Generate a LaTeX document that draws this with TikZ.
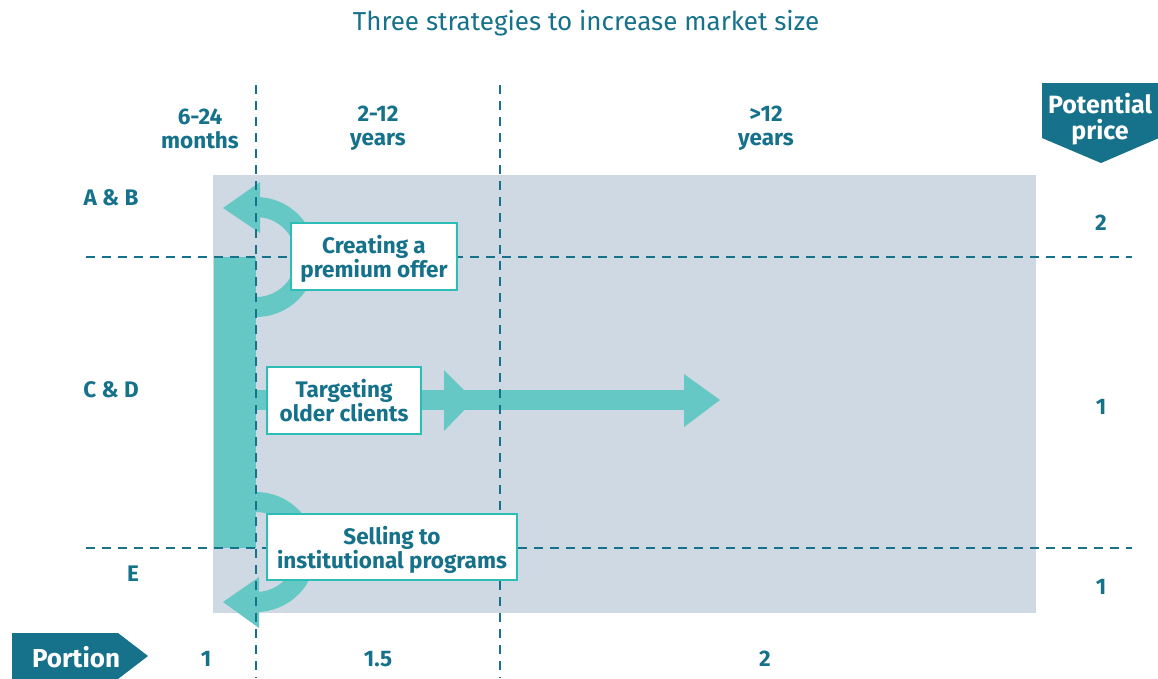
\documentclass[tikz,border=0pt]{standalone}
\usepackage{fontspec}
\setmainfont{Fira Sans}
\definecolor{dkteal}{HTML}{16718A}
\definecolor{ltteal}{HTML}{66C8C4}
\definecolor{boxteal}{HTML}{2BBDB6}
\definecolor{bggray}{HTML}{CFD9E3}
\begin{document}
\begin{tikzpicture}[x=1pt,y=-1pt,
  lbl/.style={text=dkteal, font=\bfseries\fontsize{22.5}{24}\selectfont, align=center, inner sep=0},
  stratbox/.style={draw=boxteal, line width=2.5pt, fill=white, text=dkteal, font=\bfseries\fontsize{22.5}{24}\selectfont, align=center, inner sep=0, text depth=0pt},
  grid/.style={draw=dkteal, line width=2pt, dash pattern=on 9pt off 7pt},
  band/.style={draw=ltteal, line width=20pt},
  tip/.style={fill=ltteal},
  tag/.style={fill=dkteal}]
\useasboundingbox (0,0) rectangle (1158,678);
% title
\node[text=dkteal, font=\fontsize{26}{30}\selectfont] (title) at (586,23.5) {Three strategies to increase market size};
% background
\fill[bggray] (213,175) rectangle (1036,613);
% vertical bar
\fill[ltteal] (214,257) rectangle (256,548);
% top curved arrow
\draw[band] (256,307) arc[start angle=90, end angle=-90, radius=50] -- (260,207);
\fill[tip] (260,182) -- (223,208) -- (260,233) -- cycle;
% bottom curved arrow
\draw[band] (256,502) arc[start angle=-90, end angle=90, radius=50] -- (260,602);
\fill[tip] (259,577) -- (223,602) -- (259,628) -- cycle;
% horizontal arrow
\fill[ltteal] (256,390) rectangle (690,410);
\fill[tip] (444,370) -- (474,400) -- (444,431) -- cycle;
\fill[tip] (684,374) -- (720,400) -- (684,427) -- cycle;
% grid lines
\coordinate (v1t) at (256,85); \coordinate (v1b) at (256,678);
\coordinate (v2t) at (500,85); \coordinate (v2b) at (500,678);
\coordinate (h1l) at (86,257); \coordinate (h1r) at (1132,257);
\coordinate (h2l) at (86,548); \coordinate (h2r) at (1132,548);
\draw[grid] (v1t) -- (v1b);
\draw[grid] (v2t) -- (v2b);
\draw[grid] (h1l) -- (h1r);
\draw[grid] (h2l) -- (h2r);
% boxes
\node[stratbox, minimum width=166pt, minimum height=67pt] (b1) at (374,256.5) {Creating a\\premium offer};
\node[stratbox, minimum width=154pt, minimum height=67pt] (b2) at (344,400.5) {Targeting\\older clients};
\node[stratbox, minimum width=250pt, minimum height=66pt] (b3) at (392,547) {Selling to\\institutional programs};
% column headers
\node[lbl] (c1) at (200,128.5) {6-24\\months};
\node[lbl] (c2) at (378,128.5) {2-12\\years};
\node[lbl] (c3) at (766,128.5) {>12\\years};
% row labels
\node[lbl] (r1) at (111,198) {A \& B};
\node[lbl] (r2) at (111,390) {C \& D};
\node[lbl] (r3) at (133,574) {E};
% price values
\node[lbl] (p1) at (1101,223) {2};
\node[lbl] (p2) at (1101,407) {1};
\node[lbl] (p3) at (1101,587) {1};
% portion values
\node[lbl] (q1) at (206,659) {1};
\node[lbl] (q2) at (378,659) {1.5};
\node[lbl] (q3) at (765,659) {2};
% tags
\fill[tag] (12,633) -- (118,633) -- (148,656) -- (118,679) -- (12,679) -- cycle;
\node[text=white, font=\bfseries\fontsize{26}{28}\selectfont, inner sep=0] (portion) at (76,657) {Portion};
\fill[tag] (1042,83) -- (1159,83) -- (1159,138) -- (1101,163) -- (1042,138) -- cycle;
\node[text=white, font=\bfseries\fontsize{25}{26}\selectfont, align=center, inner sep=0] (price) at (1100,119) {Potential\\price};
\end{tikzpicture}
\end{document}
